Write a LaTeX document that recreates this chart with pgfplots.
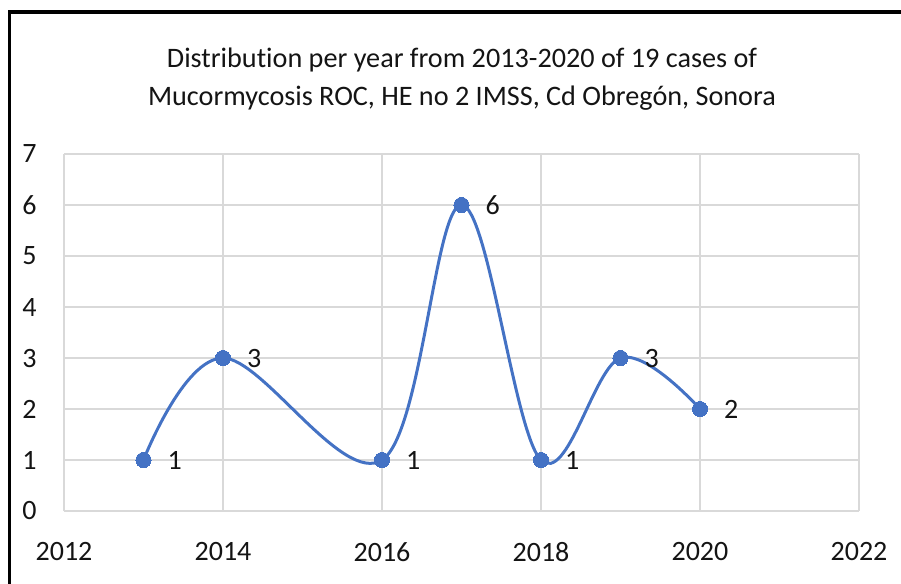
\documentclass[border=0pt]{standalone}
\usepackage{pgfplots}
\pgfplotsset{compat=1.18}
\usepackage{fontspec}
\setmainfont{Carlito}[Ligatures=CommonOff]
\definecolor{lineblue}{HTML}{4472C4}
\definecolor{gridgray}{HTML}{D9D9D9}
\definecolor{txt}{HTML}{141414}
\begin{document}
\begin{tikzpicture}
\useasboundingbox (0,0) rectangle (450.5pt,-292pt);
\draw[line width=1.6pt,black] (4.6pt,-295pt) -- (4.6pt,-6pt) -- (455pt,-6pt);
\node[align=center,font=\fontsize{14.1}{19.2}\selectfont,text=txt] at (231pt,-39.5pt)
  {Distribution per year from 2013-2020 of 19 cases of\\Mucormycosis ROC, HE no 2 IMSS, Cd Obregón, Sonora};
\begin{axis}[
  at={(32pt,-255.5pt)}, anchor=south west,
  scale only axis, width=397.5pt, height=178.5pt,
  xmin=2012, xmax=2022, ymin=0, ymax=7,
  xtick={2012,2014,...,2022}, ytick={0,1,...,7},
  /pgf/number format/1000 sep={},
  /pgf/number format/assume math mode=true,
  grid=major,
  major grid style={gridgray, line width=0.75pt},
  axis line style={draw=none},
  major tick length=0pt,
  ticklabel style={font=\fontsize{14}{16}\selectfont, text=txt, inner sep=0pt},
  yticklabel style={anchor=east, xshift=-13.5pt},
  xticklabel style={anchor=north, yshift=-15.5pt},
  clip=false,
]
\addplot[lineblue, line width=1.5pt, smooth, tension=0.6,
  mark=*, mark size=3.8pt, mark options={fill=lineblue, draw=lineblue, line width=0pt},
  nodes near coords,
  every node near coord/.append style={anchor=west, inner sep=0pt, xshift=12pt, yshift=0pt, font=\fontsize{14}{16}\selectfont, text=txt}]
coordinates {(2013,1) (2014,3) (2016,1) (2017,6) (2018,1) (2019,3) (2020,2)};
\end{axis}
\end{tikzpicture}
\end{document}
